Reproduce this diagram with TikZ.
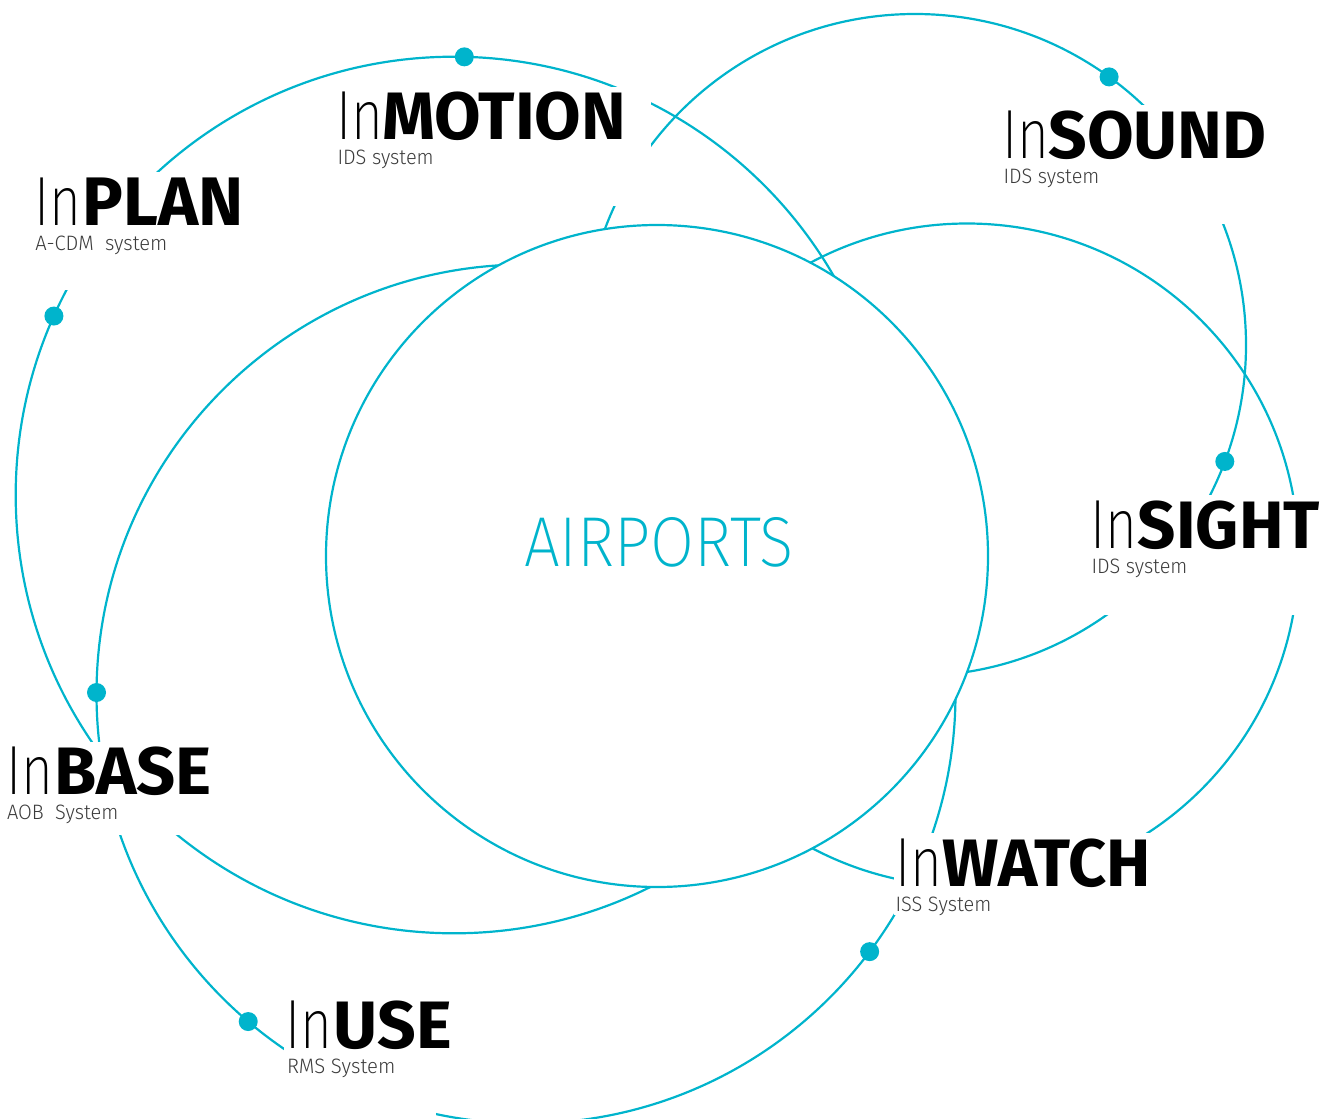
\documentclass[tikz,border=0pt]{standalone}
\usepackage{fontspec}
\usepackage{graphicx}
\usetikzlibrary{calc}
\IfFontExistsTF{Fira Sans ExtraLight}{\newfontfamily\fthin{Fira Sans ExtraLight}}{\newfontfamily\fthin{Fira Sans}}
\IfFontExistsTF{Fira Sans Light}{\newfontfamily\flight{Fira Sans Light}}{\newfontfamily\flight{Fira Sans}}
\IfFontExistsTF{Fira Sans Heavy}{\newfontfamily\fheavy{Fira Sans Heavy}}{\newfontfamily\fheavyfam{Fira Sans}\def\fheavy{\fheavyfam\bfseries}}
\definecolor{cy}{RGB}{0,180,204}
\definecolor{subgray}{RGB}{60,60,60}
\begin{document}
\begin{tikzpicture}[x=1pt,y=-1pt,
  ring/.style={draw=cy,line width=2.2pt},
  maskbox/.style={fill=white,draw=none},
  dotn/.style={circle,fill=cy,draw=none,inner sep=0pt,minimum size=19pt},
  lab/.style={anchor=base west,inner sep=0pt,outer sep=0pt},
  sub/.style={anchor=base west,inner sep=0pt,outer sep=0pt,text=subgray}]
\useasboundingbox (0,0) rectangle (1326,1119);
% centres
\coordinate (Cc) at (657,556);
\coordinate (Pc) at (454,495);
\coordinate (Bc) at (526,694);
\coordinate (Sc) at (915,345);
\coordinate (Tc) at (967,555);
% outer rings
\draw[ring] (Pc) circle[radius=438.3pt];
\draw[ring] (Bc) circle[radius=429.5pt];
\draw[ring] (Sc) circle[radius=331pt];
\draw[ring] (Tc) circle[radius=331.5pt];
% central circle
\filldraw[ring,fill=white] (Cc) circle[radius=331pt];
% label masks
\fill[maskbox] (30,172) rectangle (248,290);
\fill[maskbox] (333,87) rectangle (651,206);
\fill[maskbox] (1000,105) rectangle (1266,224);
\fill[maskbox] (1088,495) rectangle (1326,615);
\fill[maskbox] (894,833) rectangle (1160,915);
\fill[maskbox] (0,742) rectangle (216,835);
\fill[maskbox] (284,995) rectangle (436,1125);
% dots
\node[dotn] (dMotion) at ($(Pc)+(88.65:438.3pt)$) {};
\node[dotn] (dPlan) at ($(Pc)+(155.9:438.3pt)$) {};
\node[dotn] (dBase) at ($(Bc)+(179.8:429.5pt)$) {};
\node[dotn] (dUse) at ($(Bc)+(-130.3:429.5pt)$) {};
\node[dotn] (dWatch) at ($(Bc)+(-36.86:429.5pt)$) {};
\node[dotn] (dSound) at ($(Sc)+(54.1:331pt)$) {};
\node[dotn] (dSight) at ($(Sc)+(-20.6:331pt)$) {};
% centre text
\node[lab,text=cy] (airports) at (524,566) {\resizebox{270pt}{49pt}{\fthin AIRPORTS}};
% labels
\node[lab] (planIn) at (34.6,225) {\resizebox{47pt}{47.6pt}{\fthin In}};
\node[lab] (planW) at (82.4,225) {\resizebox{161pt}{47.6pt}{\fheavy PLAN}};
\node[sub] (planS) at (35.3,250) {\resizebox{132.1pt}{14.5pt}{\flight A-CDM\ \ system}};

\node[lab] (motionIn) at (336.4,139.3) {\resizebox{47pt}{47.6pt}{\fthin In}};
\node[lab] (motionW) at (382.2,139.3) {\resizebox{244pt}{47.6pt}{\fheavy MOTION}};
\node[sub] (motionS) at (337.5,164.3) {\resizebox{96.2pt}{14.5pt}{\flight IDS system}};

\node[lab] (soundIn) at (1002.1,158.3) {\resizebox{47pt}{47.6pt}{\fthin In}};
\node[lab] (soundW) at (1048.5,158.3) {\resizebox{218pt}{47.6pt}{\fheavy SOUND}};
\node[sub] (soundS) at (1003.5,183.3) {\resizebox{95.8pt}{14.5pt}{\flight IDS system}};

\node[lab] (sightIn) at (1090.6,548.7) {\resizebox{47pt}{47.6pt}{\fthin In}};
\node[lab] (sightW) at (1137.9,548.7) {\resizebox{182pt}{47.6pt}{\fheavy SIGHT}};
\node[sub] (sightS) at (1091.5,573.7) {\resizebox{95.8pt}{14.5pt}{\flight IDS system}};

\node[lab] (baseIn) at (6.4,794.6) {\resizebox{47pt}{47.6pt}{\fthin In}};
\node[lab] (baseW) at (54.3,794.6) {\resizebox{157.5pt}{47.6pt}{\fheavy BASE}};
\node[sub] (baseS) at (7.1,819.6) {\resizebox{111.3pt}{14.5pt}{\flight AOB\ \ System}};

\node[lab] (useIn) at (285,1048.4) {\resizebox{47pt}{47.6pt}{\fthin In}};
\node[lab] (useW) at (333.9,1048.4) {\resizebox{118pt}{47.6pt}{\fheavy USE}};
\node[sub] (useS) at (287.0,1073.4) {\resizebox{108.4pt}{14.5pt}{\flight RMS System}};

\node[lab] (watchIn) at (895.8,886.7) {\resizebox{47pt}{47.6pt}{\fthin In}};
\node[lab] (watchW) at (942.5,886.7) {\resizebox{208.5pt}{47.6pt}{\fheavy WATCH}};
\node[sub] (watchS) at (895.5,911.7) {\resizebox{95.8pt}{14.5pt}{\flight ISS System}};
\end{tikzpicture}
\end{document}
